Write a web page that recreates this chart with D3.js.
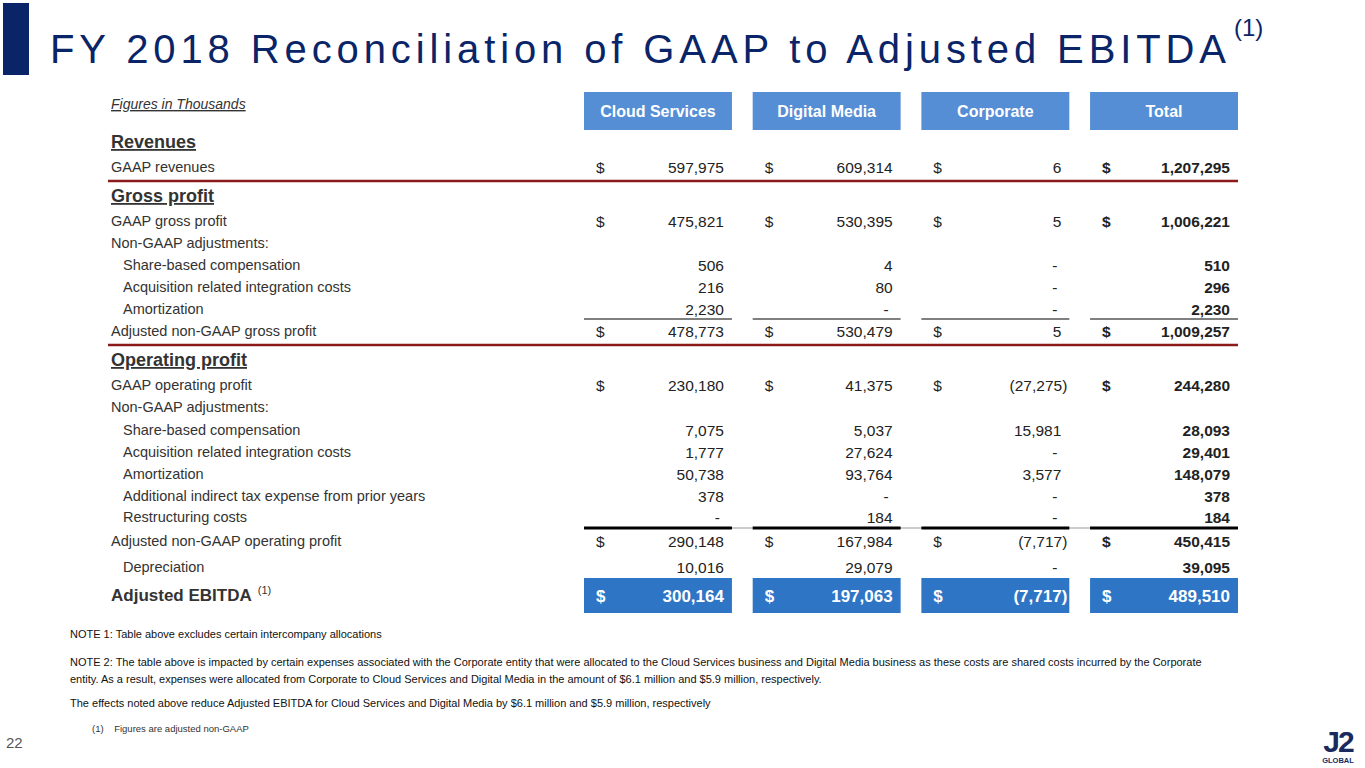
<!DOCTYPE html>
<html>
<head>
<meta charset="utf-8">
<script src="https://cdn.jsdelivr.net/npm/d3@7"></script>
<style>
  body { margin: 0; background: #fff; }
  text { font-family: Arial, "Liberation Sans", sans-serif; }
</style>
</head>
<body>
<div id="chart"></div>
<script>
// Colunas e dados
const columns = ["Cloud Services", "Digital Media", "Corporate", "Total"];

const rowLabels = [
  "Revenues", "GAAP revenues",
  "Gross profit", "GAAP gross profit", "Non-GAAP adjustments:",
  "Share-based compensation", "Acquisition related integration costs", "Amortization",
  "Adjusted non-GAAP gross profit",
  "Operating profit", "GAAP operating profit", "Non-GAAP adjustments:",
  "Share-based compensation", "Acquisition related integration costs", "Amortization",
  "Additional indirect tax expense from prior years", "Restructuring costs",
  "Adjusted non-GAAP operating profit", "Depreciation", "Adjusted EBITDA"
];
const rowKinds = [
  "section", "dollar",
  "section", "dollar", "plain",
  "indent", "indent", "indent",
  "dollar",
  "section", "dollar", "plain",
  "indent", "indent", "indent", "indent", "indent",
  "dollar", "indent", "ebitda"
];
// posição vertical (centro da linha) de cada linha
const rowY = [143, 167, 197, 221, 243, 265, 287, 309, 331, 361, 385, 407, 430, 452, 474, 496, 517, 541, 567, 596];

const cloudValues = [null, "597,975", null, "475,821", null, "506", "216", "2,230", "478,773",
  null, "230,180", null, "7,075", "1,777", "50,738", "378", "-", "290,148", "10,016", "300,164"];
const digitalValues = [null, "609,314", null, "530,395", null, "4", "80", "-", "530,479",
  null, "41,375", null, "5,037", "27,624", "93,764", "-", "184", "167,984", "29,079", "197,063"];
const corporateValues = [null, "6", null, "5", null, "-", "-", "-", "5",
  null, "(27,275)", null, "15,981", "-", "3,577", "-", "-", "(7,717)", "-", "(7,717)"];
const totalValues = [null, "1,207,295", null, "1,006,221", null, "510", "296", "2,230", "1,009,257",
  null, "244,280", null, "28,093", "29,401", "148,079", "378", "184", "450,415", "39,095", "489,510"];
const allValues = [cloudValues, digitalValues, corporateValues, totalValues];

const W = 1365, H = 768;
const titleFont = "'DejaVu Sans', Verdana, sans-serif";
const svg = d3.select("#chart").append("svg").attr("width", W).attr("height", H);

// Escalas
const xCol = d3.scaleBand().domain(columns).range([584, 1238]).paddingInner(0.123).paddingOuter(0);
const colW = xCol.bandwidth();
const y = d3.scaleOrdinal().domain(d3.range(rowLabels.length)).range(rowY);

// Título
svg.append("rect").attr("x", 3).attr("y", 3).attr("width", 26).attr("height", 72).attr("fill", "#0a2468");
svg.append("text").attr("x", 50).attr("y", 63).attr("font-family", titleFont)
  .attr("font-size", 40).attr("fill", "#0a2468").attr("textLength", 1176).text("FY 2018 Reconciliation of GAAP to Adjusted EBITDA");
svg.append("text").attr("x", 1234).attr("y", 36).attr("font-family", titleFont)
  .attr("font-size", 24).attr("fill", "#0a2468").text("(1)");

svg.append("text").attr("x", 111).attr("y", 109).attr("font-size", 14).attr("font-style", "italic")
  .attr("fill", "#333").attr("text-decoration", "underline").text("Figures in Thousands");

// Cabeçalhos
const head = svg.selectAll(".head").data(columns).enter().append("g");
head.append("rect").attr("x", d => xCol(d)).attr("y", 92).attr("width", colW).attr("height", 38).attr("fill", "#558ed5");
head.append("text").attr("x", d => xCol(d) + colW / 2).attr("y", 117).attr("text-anchor", "middle")
  .attr("font-size", 16).attr("font-weight", "bold").attr("fill", "#fff").text(d => d);

// Linha do EBITDA
const last = rowLabels.length - 1;
svg.selectAll(".ebox").data(columns).enter().append("rect")
  .attr("x", d => xCol(d)).attr("y", y(last) - 18).attr("width", colW).attr("height", 35).attr("fill", "#2e75c6");

// Linhas separadoras vermelhas
[181, 345].forEach(v => svg.append("line").attr("x1", 108).attr("x2", 1238).attr("y1", v).attr("y2", v)
  .attr("stroke", "#8b1a1a").attr("stroke-width", 2.5));

// Linhas por coluna
svg.append("line").attr("x1", 584).attr("x2", 1237).attr("y1", 528).attr("y2", 528)
  .attr("stroke", "#ccc").attr("stroke-width", 2);
columns.forEach(c => {
  svg.append("line").attr("x1", xCol(c)).attr("x2", xCol(c) + colW).attr("y1", 319).attr("y2", 319)
    .attr("stroke", "#000").attr("stroke-width", 1.2);
  svg.append("line").attr("x1", xCol(c)).attr("x2", xCol(c) + colW).attr("y1", 528).attr("y2", 528)
    .attr("stroke", "#000").attr("stroke-width", 3);
});

// Rótulos das linhas
rowLabels.forEach((lab, i) => {
  const k = rowKinds[i];
  const t = svg.append("text").attr("y", y(i) + 5).attr("fill", "#333");
  if (k === "section") {
    t.attr("x", 111).attr("font-size", 18).attr("font-weight", "bold").attr("text-decoration", "underline").text(lab);
  } else if (k === "ebitda") {
    t.attr("x", 111).attr("font-size", 17).attr("font-weight", "bold").text(lab);
    const w = t.node().getComputedTextLength();
    svg.append("text").attr("x", 111 + w + 6).attr("y", y(i) - 2).attr("font-size", 11).attr("fill", "#333").text("(1)");
  } else if (k === "indent") {
    t.attr("x", 123).attr("font-size", 14.5).text(lab);
  } else {
    t.attr("x", 111).attr("font-size", 14.5).text(lab);
  }
});

// Valores
columns.forEach((c, ci) => {
  const isTotal = c === "Total";
  allValues[ci].forEach((v, i) => {
    if (v === null) return;
    const k = rowKinds[i];
    const ebitda = k === "ebitda";
    const fill = ebitda ? "#fff" : "#222";
    const bold = isTotal || ebitda ? "bold" : "normal";
    const size = ebitda ? 17 : 15.5;
    if (k === "dollar" || ebitda) {
      svg.append("text").attr("x", xCol(c) + 12).attr("y", y(i) + 6).attr("font-size", size)
        .attr("font-weight", bold).attr("fill", fill).text("$");
    }
    const paren = v.startsWith("(");
    const xr = xCol(c) + colW - (paren ? 2 : (v === "-" ? 12 : 8));
    svg.append("text").attr("x", xr).attr("y", y(i) + 6).attr("text-anchor", "end").attr("font-size", size)
      .attr("font-weight", bold).attr("fill", fill).text(v);
  });
});

// Notas
const notes = [
  [638, "NOTE 1: Table above excludes certain intercompany allocations"],
  [666, "NOTE 2: The table above is impacted by certain expenses associated with the Corporate entity that were allocated to the Cloud Services business and Digital Media business as these costs are shared costs incurred by the Corporate"],
  [683, "entity. As a result, expenses were allocated from Corporate to Cloud Services and Digital Media in the amount of $6.1 million and $5.9 million, respectively."],
  [707, "The effects noted above reduce Adjusted EBITDA for Cloud Services and Digital Media by $6.1 million and $5.9 million, respectively"]
];
notes.forEach(n => svg.append("text").attr("x", 70).attr("y", n[0]).attr("font-size", 11).attr("fill", "#111").text(n[1]));
svg.append("text").attr("x", 92).attr("y", 732).attr("font-family", titleFont)
  .attr("font-size", 9.5).attr("fill", "#333").attr("xml:space", "preserve").text("(1)    Figures are adjusted non-GAAP");

svg.append("text").attr("x", 6).attr("y", 748).attr("font-family", titleFont)
  .attr("font-size", 15).attr("fill", "#555").text("22");

// Logo
svg.append("text").attr("x", 1338).attr("y", 752).attr("text-anchor", "middle").attr("font-size", 30)
  .attr("font-weight", "bold").attr("fill", "#1a2a5e").attr("letter-spacing", -2).text("J2");
svg.append("text").attr("x", 1338).attr("y", 763).attr("text-anchor", "middle").attr("font-size", 7.5)
  .attr("font-weight", "bold").attr("fill", "#1a2a5e").text("GLOBAL");
</script>
</body>
</html>
